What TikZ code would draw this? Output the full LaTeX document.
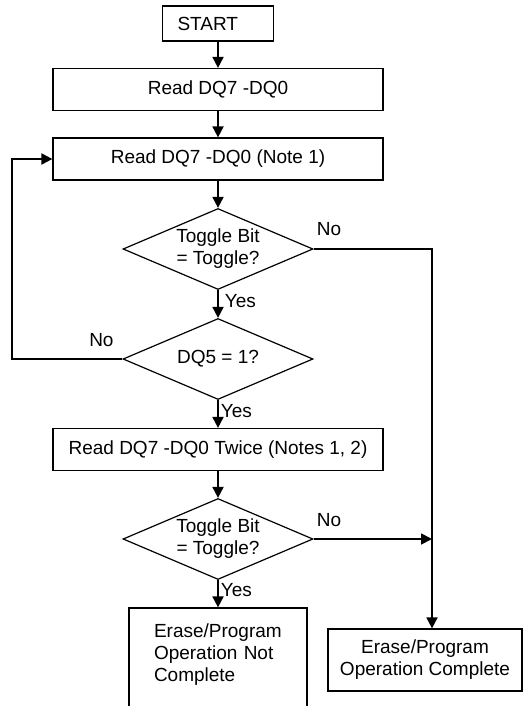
\documentclass[tikz,border=0pt]{standalone}
\usepackage{fontspec}
\setmainfont{Liberation Sans}
\usetikzlibrary{shapes.geometric, arrows.meta}
\tikzstyle{startbox} = [rectangle, 
minimum width=111pt, 
minimum height=35pt, 
text width=81pt, 
align=left, 
inner sep=0pt, 
draw=black, line width=1.2pt]
\tikzstyle{readbox} = [rectangle, 
minimum width=330pt, 
minimum height=42pt, 
inner sep=0pt, 
draw=black, line width=1.2pt]
\tikzstyle{testbox} = [diamond, 
aspect=2.35, 
minimum width=190pt, 
minimum height=81pt, 
inner sep=0pt, 
align=center, 
draw=black, line width=1.2pt]
\tikzstyle{endbox} = [rectangle, 
inner sep=0pt, 
draw=black, line width=1.2pt]
\tikzstyle{flowline} = [line width=1.8pt]
\tikzstyle{arrow} = [flowline, -{Triangle[length=11pt, width=11pt]}]
\tikzstyle{lbl} = [inner sep=2pt]

\begin{document}
\begin{tikzpicture}[x=1pt, y=-1pt, node distance=90pt, font=\fontsize{19}{22}\selectfont]
		\useasboundingbox (0,0) rectangle (526,706);
		\clip (0,0) rectangle (526,706);
		
		\node (start) [startbox] at (218,23.5) {START};
		\node (read1) [readbox, below of=start, yshift=24pt] {Read DQ7 -DQ0};
		\node (read2) [readbox, below of=read1, yshift=20.5pt] {Read DQ7 -DQ0 (Note 1)};
		\node (dec1) [testbox, below of=read2] {Toggle Bit\\= Toggle?};
		\node (dec2) [testbox, below of=dec1, yshift=-20pt] {DQ5 = 1?};
		\node (read3) [readbox, below of=dec2, yshift=-0.5pt] {Read DQ7 -DQ0 Twice (Notes 1, 2)};
		\node (dec3) [testbox, below of=read3, yshift=0.5pt] {Toggle Bit\\= Toggle?};
		
		\node (busy) [endbox, below of=dec3, yshift=-43.75pt, minimum width=178pt, 
			text width=128pt, align=left, text height=29.5pt, text depth=100pt] {Erase/Program\\Operation Not\\Complete};
		\node (done) [endbox, right of=busy, xshift=117pt, yshift=12.75pt, 
			minimum width=194pt, minimum height=62pt, align=center] {Erase/Program\\Operation Complete};
		
		\coordinate (loop) at ([xshift=-206pt]read2.center);
		\coordinate (bus) at ([xshift=214pt]dec1.center);
		
		\draw [arrow] (start) -- (read1);
		\draw [arrow] (read1) -- (read2);
		\draw [arrow] (read2) -- (dec1);
		\draw [arrow] (dec1) -- node (yes1) [lbl, pos=0.38, anchor=west, xshift=4pt] {Yes} (dec2);
		\draw [arrow] (dec2) -- node (yes2) [lbl, pos=0.38, anchor=west] {Yes} (read3);
		\draw [arrow] (read3) -- (dec3);
		\draw [arrow] (dec3) -- node (yes3) [lbl, pos=0.36, anchor=west] {Yes} (busy);
		
		\draw [arrow] (dec2.west) -- node (no2) [lbl, pos=0.19, anchor=south, yshift=9pt] {No} (dec2.west -| loop) -- (loop) -- (read2.west);
		\draw [arrow] (dec1.east) -- node (no1) [lbl, pos=0.13, anchor=south, yshift=10pt] {No} (bus) -- (bus |- done.north);
		\draw [arrow] (dec3.east) -- node (no3) [lbl, pos=0.13, anchor=south, yshift=9pt] {No} (dec3.east -| bus);
		
	\end{tikzpicture}
\end{document}
